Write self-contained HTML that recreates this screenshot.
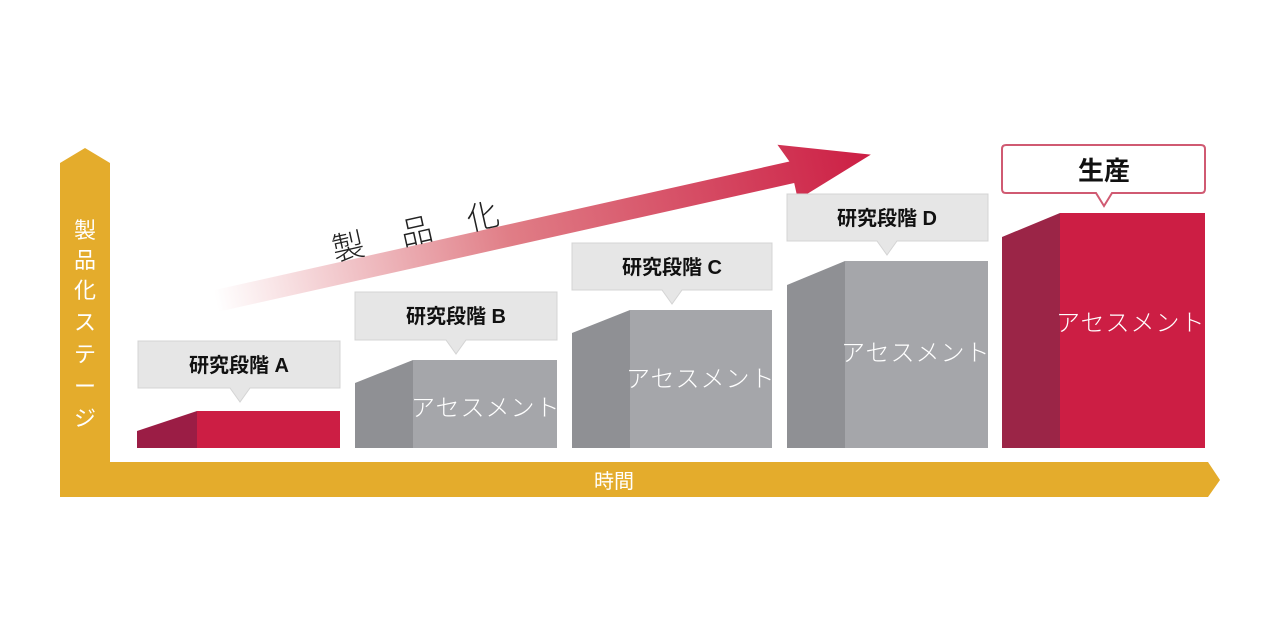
<!DOCTYPE html>
<html><head><meta charset="utf-8"><style>
html,body{margin:0;padding:0;background:#fff;}
svg{display:block;font-family:"Liberation Sans","Noto Sans CJK JP",sans-serif;}
.lb{font-size:20px;font-weight:bold;fill:#111;}
.as{font-size:24px;fill:#fff;letter-spacing:1px;font-weight:300;}
</style></head><body>
<svg width="1280" height="640" viewBox="0 0 1280 640" xmlns="http://www.w3.org/2000/svg">
<defs>
<linearGradient id="g" x1="0" y1="0" x2="1" y2="0">
<stop offset="0" stop-color="#ffffff"/>
<stop offset="0.45" stop-color="#e07d86"/>
<stop offset="1" stop-color="#cc1e44"/>
</linearGradient>
</defs>
<path d="M60,163 L85,148 L110,163 L110,462 L1208,462 L1220,480 L1208,497 L60,497 Z" fill="#e4ac2c"/>
<text x="85" y="238" font-size="22" fill="#fff" text-anchor="middle">製</text>
<text x="85" y="268" font-size="22" fill="#fff" text-anchor="middle">品</text>
<text x="85" y="298" font-size="22" fill="#fff" text-anchor="middle">化</text>
<text x="85" y="330" font-size="22" fill="#fff" text-anchor="middle">ス</text>
<text x="85" y="362" font-size="22" fill="#fff" text-anchor="middle">テ</text>
<text x="85" y="394" font-size="22" fill="#fff" text-anchor="middle">ー</text>
<text x="85" y="426" font-size="22" fill="#fff" text-anchor="middle">ジ</text>
<text x="614" y="488" font-size="20" fill="#fff" text-anchor="middle">時間</text>

<g transform="translate(216,301) rotate(-12.6)">
<path d="M0,-11 L590,-11 L582,-30 L671,0 L590,28 L590,11 L0,11 Z" fill="url(#g)"/>
</g>
<g transform="rotate(-12.6 410 230)" font-size="32" fill="#222" font-weight="300">
<text x="330" y="244">製</text>
<text x="400" y="244">品</text>
<text x="468" y="244">化</text>
</g>

<path d="M137,431 L197,411 L197,448 L137,448 Z" fill="#9b1d45"/>
<rect x="197" y="411" width="143" height="37" fill="#cc1e44"/>
<path d="M355,383 L413,360 L413,448 L355,448 Z" fill="#8f9094"/>
<rect x="413" y="360" width="144" height="88" fill="#a5a6aa"/>
<text class="as" x="411" y="416">アセスメント</text>
<path d="M572,333 L630,310 L630,448 L572,448 Z" fill="#8f9094"/>
<rect x="630" y="310" width="142" height="138" fill="#a5a6aa"/>
<text class="as" x="626" y="387">アセスメント</text>
<path d="M787,285 L845,261 L845,448 L787,448 Z" fill="#8f9094"/>
<rect x="845" y="261" width="143" height="187" fill="#a5a6aa"/>
<text class="as" x="841" y="361">アセスメント</text>
<path d="M1002,237 L1060,213 L1060,448 L1002,448 Z" fill="#9b2547"/>
<rect x="1060" y="213" width="145" height="235" fill="#cc1e44"/>
<text class="as" x="1056" y="331">アセスメント</text>

<g fill="#e6e6e6" stroke="#d4d4d4" stroke-width="1">
<path d="M138,341 H340 V388 H250 L240,402 L230,388 H138 Z"/>
<path d="M355,292 H557 V340 H466 L456,354 L446,340 H355 Z"/>
<path d="M572,243 H772 V290 H682 L672,304 L662,290 H572 Z"/>
<path d="M787,194 H988 V241 H897 L887,255 L877,241 H787 Z"/>
</g>
<text class="lb" x="239" y="372" text-anchor="middle">研究段階 A</text>
<text class="lb" x="456" y="323" text-anchor="middle">研究段階 B</text>
<text class="lb" x="672" y="274" text-anchor="middle">研究段階 C</text>
<text class="lb" x="887" y="225" text-anchor="middle">研究段階 D</text>
<path d="M1006,145 H1201 Q1205,145 1205,149 V189 Q1205,193 1201,193 H1112 L1104,206 L1096,193 H1006 Q1002,193 1002,189 V149 Q1002,145 1006,145 Z" fill="#fff" stroke="#d05a72" stroke-width="2"/>
<text x="1104" y="180" font-size="26" font-weight="bold" fill="#111" text-anchor="middle">生産</text>
</svg>
</body></html>
